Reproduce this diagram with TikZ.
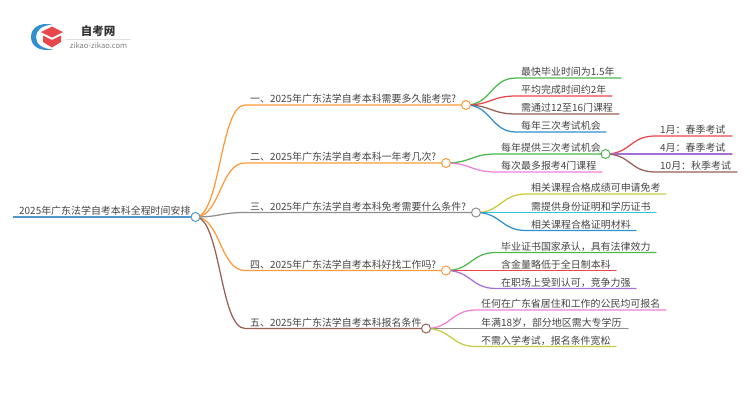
\documentclass[tikz,border=0pt]{standalone}
\usepackage{fontspec}
\setmainfont{Noto Sans CJK SC}
\usetikzlibrary{backgrounds}
\definecolor{corange}{HTML}{FF9A3C}
\definecolor{cgreen}{HTML}{4CB84C}
\definecolor{cred}{HTML}{E8474C}
\definecolor{cbrown}{HTML}{985F55}
\definecolor{cblue}{HTML}{2F8FD0}
\definecolor{cpurple}{HTML}{A56FD8}
\definecolor{cpink}{HTML}{F07FD8}
\definecolor{cgray}{HTML}{8E8E8E}
\definecolor{cyellow}{HTML}{C9C940}
\definecolor{ccyan}{HTML}{2FC5DC}
\definecolor{croot}{HTML}{4F97CC}
\definecolor{ctext}{HTML}{444444}
\tikzset{
  label/.style={anchor=base west,inner sep=0pt,text=ctext,font=\fontsize{9.95}{12}\selectfont},
  hub/.style={circle,draw=#1,fill=white,line width=1pt,inner sep=0pt,minimum size=9pt},
  link/.style={draw=#1,line width=1.25pt,line cap=round},
}
% name, parent, colour, line start x, y, line end x, text
\newcommand{\leaf}[7]{%
  \coordinate (#1s) at (#4,#5);
  \coordinate (#1e) at (#6,#5);
  \node[label] (#1t) at (#4+5,#5-2.1) {#7};
  \begin{pgfonlayer}{background}
    \draw[link=#3] (#2.center) .. controls +(25,0) and +(-25,0) .. (#1s) -- (#1e);
  \end{pgfonlayer}
}
% name, colour, circle x, y, text
\newcommand{\branch}[5]{%
  \node[hub=#2] (#1) at (#3,#4) {};
  \coordinate (#1s) at (245,#4);
  \node[label] (#1t) at (250,#4-2.1) {#5};
  \begin{pgfonlayer}{background}
    \draw[link=#2] (root.center) .. controls +(25,0) and +(-25,0) .. (#1s) -- (#1);
  \end{pgfonlayer}
}
\begin{document}
\begin{tikzpicture}[x=1pt,y=-1pt]
\useasboundingbox (0,0) rectangle (750,410);
% logo
\fill[cblue] (52,24.5) .. controls (38,22) and (31,29) .. (31,37) .. controls (31,45) and (38,52) .. (53,49.5) .. controls (42,49) and (36,44) .. (36,37) .. controls (36,30) and (42,25.5) .. (52,24.5) -- cycle;
\fill[cred] (52,26.5) -- (63,32) -- (52,37.5) -- (41,32) -- cycle;
\fill[cred] (43,35.5) -- (52,40) -- (61,35.5) -- (61,42) -- (52,47.5) -- (43,42) -- cycle;
\node[inner sep=0pt,text=black!80,font=\fontsize{11.5}{12}\selectfont\bfseries] (logotitle) at (98,31.5) {自考网};
\node[inner sep=0pt,text=black!50,font=\fontsize{7.6}{9}\selectfont] (logourl) at (98.5,45.5) {zikao-zikao.com};
\draw[black!12,line width=.6pt] (66,39) -- (131,39);
% root
\node[hub=croot] (root) at (195.5,217) {};
\coordinate (roots) at (13,217);
\node[label] (roott) at (19,214.9) {2025年广东法学自考本科全程时间安排};
\begin{pgfonlayer}{background}
\draw[draw=croot,line width=2.2pt] (roots) -- (root);
\end{pgfonlayer}
% branches
\branch{b1}{corange}{466}{105}{一、2025年广东法学自考本科需要多久能考完?}
\branch{b2}{corange}{446}{163}{二、2025年广东法学自考本科一年考几次?}
\branch{b3}{cgray}{476}{212.5}{三、2025年广东法学自考本科免考需要什么条件?}
\branch{b4}{corange}{446}{270.5}{四、2025年广东法学自考本科好找工作吗?}
\branch{b5}{cbrown}{426}{328.5}{五、2025年广东法学自考本科报名条件}
% leaves
\leaf{a1}{b1}{cgreen}{516}{78}{621}{最快毕业时间为1.5年}
\leaf{a2}{b1}{cred}{516}{96}{612}{平均完成时间约2年}
\leaf{a3}{b1}{cbrown}{516}{114}{619}{需通过12至16门课程}
\leaf{a4}{b1}{cblue}{516}{132}{606}{每年三次考试机会}
\node[hub=cgreen] (c1) at (605.5,154) {};
\leaf{a5}{b2}{cgreen}{496}{154}{600}{每年提供三次考试机会}
\leaf{a6}{b2}{cpink}{496}{172}{602}{每次最多报考4门课程}
\begin{pgfonlayer}{background}
\draw[link=cgreen] (a5e) -- (c1);
\end{pgfonlayer}
\leaf{d1}{c1}{cred}{655}{136}{732}{1月：春季考试}
\leaf{d2}{c1}{cpurple}{655}{154}{732}{4月：春季考试}
\leaf{d3}{c1}{cbrown}{655}{172}{737}{10月：秋季考试}
\leaf{e1}{b3}{cyellow}{526}{194}{666}{相关课程合格成绩可申请免考}
\leaf{e2}{b3}{ccyan}{526}{212.5}{656}{需提供身份证明和学历证书}
\leaf{e3}{b3}{cblue}{526}{230.5}{636}{相关课程合格证明材料}
\leaf{f1}{b4}{cgreen}{496}{252.5}{656}{毕业证书国家承认，具有法律效力}
\leaf{f2}{b4}{cred}{496}{270.5}{616}{含金量略低于全日制本科}
\leaf{f3}{b4}{cpurple}{496}{288.5}{636}{在职场上受到认可，竞争力强}
\leaf{g1}{b5}{cpink}{476}{310}{666}{任何在广东省居住和工作的公民均可报名}
\leaf{g2}{b5}{cgray}{476}{328.5}{628}{年满18岁，部分地区需大专学历}
\leaf{g3}{b5}{cyellow}{476}{346.5}{616}{不需入学考试，报名条件宽松}
\end{tikzpicture}
\end{document}
